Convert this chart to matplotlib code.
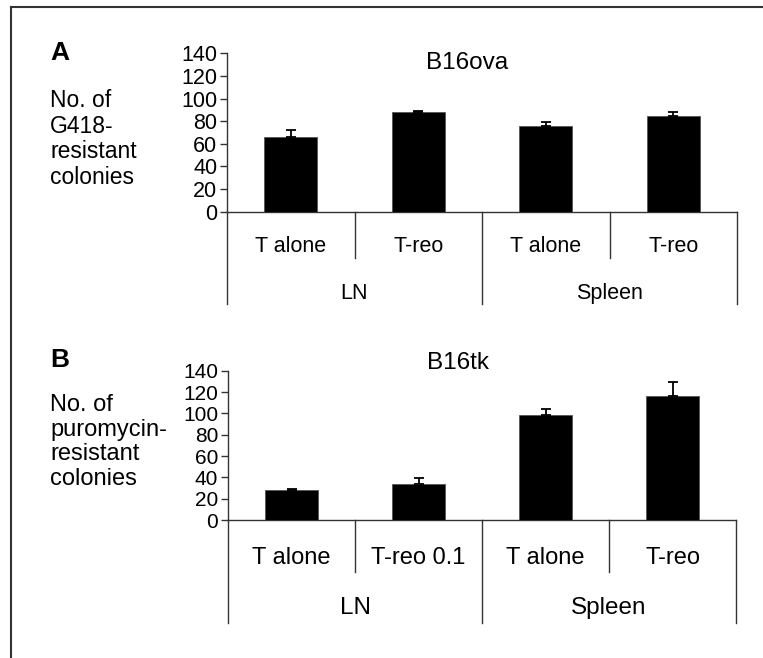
import matplotlib
matplotlib.use("Agg")
import matplotlib.pyplot as plt
from matplotlib.lines import Line2D
import numpy as np

plt.rcParams['font.family'] = ['Liberation Sans', 'DejaVu Sans']

# ---- data ----
cats_a = ["T alone", "T-reo", "T alone", "T-reo"]
vals_a = [66, 88, 76, 85]
errs_a = [6, 1.5, 3.5, 3.5]

cats_b = ["T alone", "T-reo 0.1", "T alone", "T-reo"]
vals_b = [28, 34, 98, 116]
errs_b = [1.5, 5, 6.5, 13]

groups = ["LN", "Spleen"]
yticks = [0, 20, 40, 60, 80, 100, 120, 140]

W, H = 763, 658
fig = plt.figure(figsize=(W / 100, H / 100), dpi=100)
fig.patch.set_facecolor('white')

def fx(x):
    return x / W

def fy(y):
    return 1 - y / H

# outer frame (top and left lines)
fig.add_artist(Line2D([fx(11), fx(763)], [fy(7), fy(7)], color='#333333', lw=1.5, transform=fig.transFigure))
fig.add_artist(Line2D([fx(11), fx(11)], [fy(7), fy(658)], color='#333333', lw=1.5, transform=fig.transFigure))


def panel(left, right, top, bottom, cats, vals, errs, title, title_xy, letter, letter_y,
          ylabel, ylabel_y, tick_fs, cat_fs, grp_fs, ylab_fs, title_fs,
          short_px, long_px, cat_px, grp_px, ylab_ls):
    ax = fig.add_axes([fx(left), fy(bottom), fx(right - left), (bottom - top) / H])
    x = np.arange(len(cats)) + 0.5
    ax.bar(x, vals, width=0.413, color='black', edgecolor='#555555', linewidth=0.6, zorder=3)
    ax.errorbar(x, vals, yerr=[np.zeros(len(errs)), errs], fmt='none', ecolor='black',
                elinewidth=1.3, capsize=3.6, capthick=1.3, zorder=4)
    ax.set_xlim(0, len(cats))
    ax.set_ylim(0, 140)
    ax.set_yticks(yticks)
    ax.set_yticklabels([str(t) for t in yticks], fontsize=tick_fs)
    ax.set_xticks([])
    for s in ['top', 'right']:
        ax.spines[s].set_visible(False)
    for s in ['left', 'bottom']:
        ax.spines[s].set_color('#333333')
        ax.spines[s].set_linewidth(1.0)
    ax.tick_params(axis='y', direction='out', length=5, width=1.0, color='#333333', pad=2)
    ax.patch.set_alpha(0)

    hpx = bottom - top
    tr = ax.get_xaxis_transform()
    for i in range(len(cats) + 1):
        depth = long_px if i % 2 == 0 else short_px
        ax.add_line(Line2D([i, i], [0, -depth / hpx], transform=tr, color='#333333',
                           lw=1.0, clip_on=False))
    for xi, c in zip(x, cats):
        ax.text(xi, -cat_px / hpx, c, transform=tr, ha='center', va='center', fontsize=cat_fs)
    for gi, g in enumerate(groups):
        ax.text(1 + 2 * gi, -grp_px / hpx, g, transform=tr, ha='center', va='center', fontsize=grp_fs)

    fig.text(fx(title_xy[0]), fy(title_xy[1]), title, ha='center', va='center', fontsize=title_fs)
    fig.text(fx(50), fy(letter_y), letter, ha='left', va='center', fontsize=19, fontweight='bold')
    fig.text(fx(50), fy(ylabel_y), ylabel, ha='left', va='center', fontsize=ylab_fs, linespacing=ylab_ls)
    return ax


panel(227, 737, 53.4, 211.7, cats_a, vals_a, errs_a, "B16ova", (467, 63), "A", 53,
      "No. of\nG418-\nresistant\ncolonies", 139,
      tick_fs=15.5, cat_fs=15.5, grp_fs=15.5, ylab_fs=16.5, title_fs=17.5,
      short_px=46.6, long_px=92.3, cat_px=35, grp_px=81.6, ylab_ls=1.15)

panel(228, 736, 370.7, 520, cats_b, vals_b, errs_b, "B16tk", (458, 363), "B", 360,
      "No. of\npuromycin-\nresistant\ncolonies", 442,
      tick_fs=15, cat_fs=17, grp_fs=17.5, ylab_fs=17, title_fs=17.5,
      short_px=51.7, long_px=103.3, cat_px=37.7, grp_px=88, ylab_ls=1.15)

fig.savefig("out.png", dpi=100, facecolor='white')
